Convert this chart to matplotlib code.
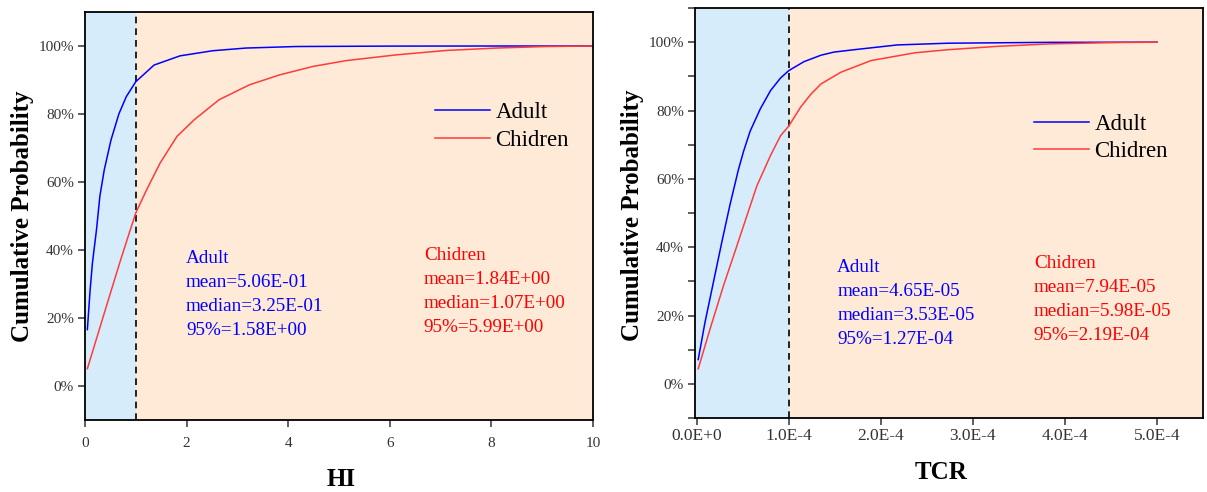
import matplotlib
matplotlib.use('Agg')
import matplotlib.pyplot as plt
from matplotlib.ticker import MultipleLocator, FuncFormatter

plt.rcParams['font.family'] = ['Liberation Serif', 'DejaVu Serif']

# --- data ---
# HI panel
hi_adult_x = [0.047, 0.1, 0.147, 0.227, 0.293, 0.38, 0.513, 0.667, 0.813, 1.0, 1.36, 1.87,
              2.51, 3.17, 4.16, 6.0, 8.0, 10.0]
hi_adult_y = [16.6, 28, 36.2, 46, 55.8, 63.6, 72.4, 80, 85.1, 89.5, 94.4, 97.1,
              98.6, 99.4, 99.85, 99.97, 100, 100]
hi_child_x = [0.047, 0.3, 0.5, 0.7, 0.85, 1.0, 1.213, 1.48, 1.81, 2.15, 2.64, 3.24, 3.83,
              4.49, 5.14, 6.13, 7.12, 8.1, 9.09, 10.0]
hi_child_y = [5.1, 17.5, 27.3, 37, 44, 50.9, 57.7, 65.6, 73.4, 78.3, 84.2, 88.6, 91.5,
              94, 95.7, 97.4, 98.7, 99.4, 99.85, 100]

# TCR panel (x in units of 1E-4)
tcr_adult_x = [0.015, 0.088, 0.179, 0.27, 0.361, 0.45, 0.507, 0.58, 0.69, 0.8, 0.909, 1.0,
               1.164, 1.35, 1.49, 1.71, 2.18, 2.73, 3.83, 5.0]
tcr_adult_y = [7.1, 17.9, 29.6, 41.3, 52.5, 62.5, 68, 74, 80.5, 85.8, 89.5, 91.7,
               94.3, 96.2, 97.1, 97.8, 99.2, 99.7, 99.95, 100]
tcr_child_x = [0.015, 0.142, 0.288, 0.398, 0.507, 0.653, 0.8, 0.909, 1.0, 1.128, 1.24, 1.35,
               1.565, 1.89, 2.37, 2.73, 3.28, 3.83, 4.55, 5.0]
tcr_child_y = [4.4, 15.9, 28.6, 37.4, 46.2, 58, 66.8, 72.6, 75.5, 81, 84.8, 87.8,
               91.2, 94.6, 96.9, 97.8, 98.8, 99.5, 99.9, 100]

hi_adult_stats = ['Adult', 'mean=5.06E-01', 'median=3.25E-01', '95%=1.58E+00']
hi_child_stats = ['Chidren', 'mean=1.84E+00', 'median=1.07E+00', '95%=5.99E+00']
tcr_adult_stats = ['Adult', 'mean=4.65E-05', 'median=3.53E-05', '95%=1.27E-04']
tcr_child_stats = ['Chidren', 'mean=7.94E-05', 'median=5.98E-05', '95%=2.19E-04']

hi_ticks = [0, 2, 4, 6, 8, 10]
tcr_ticks = [0, 1e-4, 2e-4, 3e-4, 4e-4, 5e-4]
tcr_tick_labels = ['0.0E+0', '1.0E-4', '2.0E-4', '3.0E-4', '4.0E-4', '5.0E-4']

BLUE_BG = '#d7ecfb'
PEACH_BG = '#feead7'
C_ADULT = '#0000ff'
C_CHILD = '#ff3b3b'

fig = plt.figure(figsize=(12.07, 4.92), dpi=100)
ax1 = fig.add_axes([0.0704, 0.1463, 0.4209, 0.8293])
ax2 = fig.add_axes([0.5758, 0.1504, 0.4209, 0.8333])


def style_axes(ax):
    for s in ax.spines.values():
        s.set_linewidth(1.3)
        s.set_color('black')
    ax.yaxis.set_major_formatter(FuncFormatter(lambda v, p: f'{v:.0f}%'))
    ax.tick_params(axis='both', which='both', direction='out', length=5, width=1.1,
                   labelsize=11, colors='#333333', labelcolor='#333333')
    ax.tick_params(axis='y', pad=3)
    ax.set_ylim(-10, 110)
    ax.set_yticks([0, 20, 40, 60, 80, 100])


def stats_block(ax, x, y, lines, color):
    for i, t in enumerate(lines):
        ax.text(x, y - i * 0.0588, t, transform=ax.transAxes, color=color,
                fontsize=13.8, va='center', ha='left')


# ---- HI panel ----
ax1.axvspan(0, 1, color=BLUE_BG, zorder=0, lw=0)
ax1.axvspan(1, 10, color=PEACH_BG, zorder=0, lw=0)
ax1.axvline(1, color='black', ls=(0, (4, 3)), lw=1.2)
ax1.plot(hi_adult_x, hi_adult_y, color=C_ADULT, lw=1.1, label='Adult')
ax1.plot(hi_child_x, hi_child_y, color=C_CHILD, lw=1.1, label='Chidren')
ax1.set_xlim(0, 10)
ax1.set_xticks(hi_ticks)
style_axes(ax1)
ax1.tick_params(axis='x', pad=7)
ax1.set_ylabel('Cumulative Probability', fontsize=18, fontweight='bold')
ax1.yaxis.set_label_coords(-0.100, 0.5)
ax1.set_xlabel('HI', fontsize=18, fontweight='bold')
ax1.xaxis.set_label_coords(0.504, -0.118)
ax1.legend(loc='center left', bbox_to_anchor=(0.648, 0.72), frameon=False,
           fontsize=16.5, handlelength=2.4, handletextpad=0.25, labelspacing=0.3)
stats_block(ax1, 0.199, 0.395, hi_adult_stats, '#0000ff')
stats_block(ax1, 0.667, 0.403, hi_child_stats, '#ff0000')

# ---- TCR panel ----
ax2.axvspan(-0.02e-4, 1e-4, color=BLUE_BG, zorder=0, lw=0)
ax2.axvspan(1e-4, 5.5e-4, color=PEACH_BG, zorder=0, lw=0)
ax2.axvline(1e-4, color='black', ls=(0, (4, 3)), lw=1.2)
ax2.plot([v * 1e-4 for v in tcr_adult_x], tcr_adult_y, color=C_ADULT, lw=1.1, label='Adult')
ax2.plot([v * 1e-4 for v in tcr_child_x], tcr_child_y, color=C_CHILD, lw=1.1, label='Chidren')
ax2.set_xlim(-0.02e-4, 5.5e-4)
ax2.set_xticks(tcr_ticks)
ax2.set_xticklabels(tcr_tick_labels)
style_axes(ax2)
ax2.yaxis.set_minor_locator(MultipleLocator(10))
ax2.tick_params(axis='x', pad=2, labelsize=12.5)
ax2.set_ylabel('Cumulative Probability', fontsize=18, fontweight='bold')
ax2.yaxis.set_label_coords(-0.100, 0.495)
ax2.set_xlabel('TCR', fontsize=18, fontweight='bold')
ax2.xaxis.set_label_coords(0.484, -0.105)
ax2.legend(loc='center left', bbox_to_anchor=(0.626, 0.683), frameon=False,
           fontsize=16.5, handlelength=2.4, handletextpad=0.25, labelspacing=0.3)
stats_block(ax2, 0.280, 0.368, tcr_adult_stats, '#0000ff')
stats_block(ax2, 0.667, 0.377, tcr_child_stats, '#ff0000')

fig.savefig('out.png', dpi=100)
